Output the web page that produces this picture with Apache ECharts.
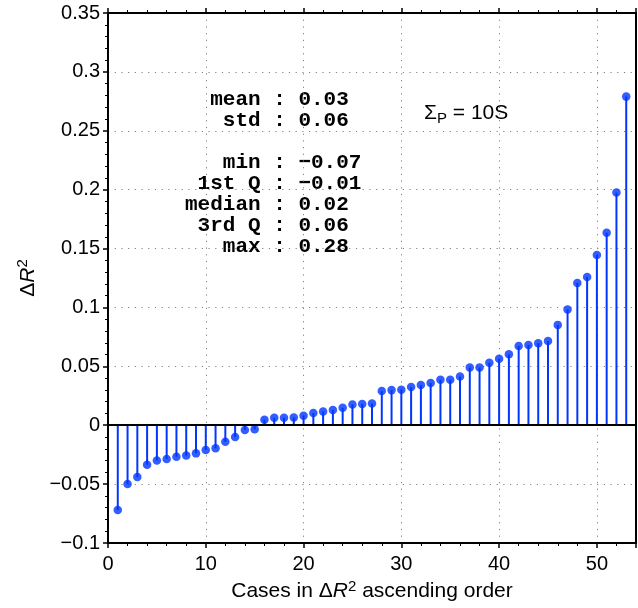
<!DOCTYPE html>
<html>
<head>
<meta charset="utf-8">
<script src="https://cdn.jsdelivr.net/npm/echarts@6/dist/echarts.min.js"></script>
<style>
html,body{margin:0;padding:0;background:#fff;}
#chart{width:638px;height:608px;}
</style>
</head>
<body>
<div id="chart"></div>
<script>
// ---- data ----
const cases = [1,2,3,4,5,6,7,8,9,10,11,12,13,14,15,16,17,18,19,20,21,22,23,24,25,26,27,28,29,30,31,32,33,34,35,36,37,38,39,40,41,42,43,44,45,46,47,48,49,50,51,52,53];
const deltaR2 = [-0.072,-0.050,-0.044,-0.0335,-0.030,-0.0287,-0.0267,-0.0258,-0.0239,-0.021,-0.0196,-0.014,-0.010,-0.0041,-0.0035,0.0047,0.0063,0.0063,0.0066,0.0081,0.0103,0.0117,0.0129,0.0148,0.0176,0.018,0.0185,0.029,0.0298,0.0301,0.0324,0.0341,0.0358,0.0386,0.0386,0.0414,0.049,0.049,0.0531,0.0565,0.0602,0.0673,0.0682,0.0697,0.0716,0.0852,0.0983,0.1208,0.1259,0.1445,0.1635,0.1975,0.279];
const statLabels = ['mean','std','','min','1st Q','median','3rd Q','max'];
const statValues = ['0.03','0.06','','\u22120.07','\u22120.01','0.02','0.06','0.28'];
const sigmaText = '10S';

const points = cases.map((c,i)=>[c, deltaR2[i]]);
const BLUE = '#0036ff';
const SANS = '"Liberation Sans", Arial, sans-serif';
const MONO = '"Liberation Mono", "Courier New", monospace';

const statLines = statLabels.map((l,i)=> l==='' ? '' : (l.padStart(6,' ') + ' : ' + statValues[i]));

const chart = echarts.init(document.getElementById('chart'), null, {renderer:'canvas'});
const dotted = {type:[1.2,5.5], color:'#808080', width:1};

const option = {
  animation:false,
  backgroundColor:'#fff',
  grid:{left:108, right:2, top:13, bottom:65, show:false},
  xAxis:[{
    type:'value', min:0, max:54, interval:10, position:'bottom',
    axisLine:{show:true, onZero:false, lineStyle:{color:'#000', width:2}},
    axisTick:{show:true, inside:false, length:5, lineStyle:{color:'#000', width:1.5}},
    minorTick:{show:true, splitNumber:5, length:3, lineStyle:{color:'#000', width:1}},
    axisLabel:{color:'#000', fontSize:20, fontFamily:SANS, margin:11, showMaxLabel:false},
    splitLine:{show:true, lineStyle:dotted},
    name:'{t|Cases in \u0394}{r|R}{s|2}{t| ascending order}',
    nameLocation:'middle', nameGap:33,
    nameTextStyle:{color:'#000', fontSize:21, fontFamily:SANS,
      rich:{t:{fontSize:21, fontFamily:SANS, color:'#000', lineHeight:24},
            r:{fontSize:21, fontFamily:SANS, fontStyle:'italic', color:'#000', lineHeight:24},
            s:{fontSize:15, fontFamily:SANS, color:'#000', padding:[0,0,10,0]}}}
  },{
    type:'value', min:0, max:54, interval:10, position:'top',
    axisLine:{show:true, onZero:false, lineStyle:{color:'#000', width:2}},
    axisTick:{show:true, inside:false, length:5, lineStyle:{color:'#000', width:1.5}},
    minorTick:{show:true, splitNumber:5, length:3, lineStyle:{color:'#000', width:1}},
    axisLabel:{show:false}, splitLine:{show:false}
  }],
  yAxis:[{
    type:'value', min:-0.1, max:0.35, interval:0.05, position:'left',
    axisLine:{show:true, onZero:false, lineStyle:{color:'#000', width:2}},
    axisTick:{show:true, inside:false, length:5, lineStyle:{color:'#000', width:1.5}},
    minorTick:{show:true, splitNumber:5, length:3, lineStyle:{color:'#000', width:1}},
    axisLabel:{color:'#000', fontSize:20, fontFamily:SANS, margin:8,
      formatter:v=>{const r=Math.round(v*100)/100; return String(r).replace('-','\u2212');}},
    splitLine:{show:true, lineStyle:dotted},
    name:'{d|\u0394}{r|R}{s|2}', nameLocation:'middle', nameGap:66, nameRotate:90,
    nameTextStyle:{color:'#000', fontSize:21, fontFamily:SANS,
      rich:{d:{fontSize:21, fontFamily:SANS, color:'#000', lineHeight:24},
            r:{fontSize:21, fontFamily:SANS, fontStyle:'italic', color:'#000', lineHeight:24},
            s:{fontSize:15, fontFamily:SANS, color:'#000', padding:[0,0,10,0]}}}
  },{
    type:'value', min:-0.1, max:0.35, interval:0.05, position:'right',
    axisLine:{show:true, onZero:false, lineStyle:{color:'#000', width:2}},
    axisTick:{show:false}, axisLabel:{show:false}, splitLine:{show:false}
  }],
  series:[{
    type:'custom',
    xAxisIndex:0, yAxisIndex:0,
    data:points,
    renderItem:(params, api)=>{
      const p0 = api.coord([api.value(0), 0]);
      const p1 = api.coord([api.value(0), api.value(1)]);
      return {type:'line', shape:{x1:p0[0], y1:p0[1], x2:p1[0], y2:p1[1]},
        style:{stroke:BLUE, lineWidth:2}};
    },
    z:3
  },{
    type:'scatter', xAxisIndex:0, yAxisIndex:0,
    data:points, symbol:'circle', symbolSize:8.5,
    itemStyle:{color:BLUE}, z:4,
    markLine:{silent:true, symbol:['none','none'], label:{show:false},
      lineStyle:{color:'#000', width:2, type:'solid'},
      data:[{yAxis:0}], z:5}
  }],
  graphic:[{
    type:'text', left:185, top:89,
    style:{text:statLines.join('\n'), font:'bold 21px ' + MONO, fill:'#000', lineHeight:21}
  },{
    type:'text', left:424, top:103,
    style:{text:'{t|\u03a3}{p|P}{t| = ' + sigmaText + '}', fill:'#000',
      rich:{t:{fontSize:21, fontFamily:SANS, color:'#000', lineHeight:26},
            p:{fontSize:15, fontFamily:SANS, color:'#000', padding:[10,0,0,0]}}}
  }]
};
chart.setOption(option);
</script>
</body>
</html>
